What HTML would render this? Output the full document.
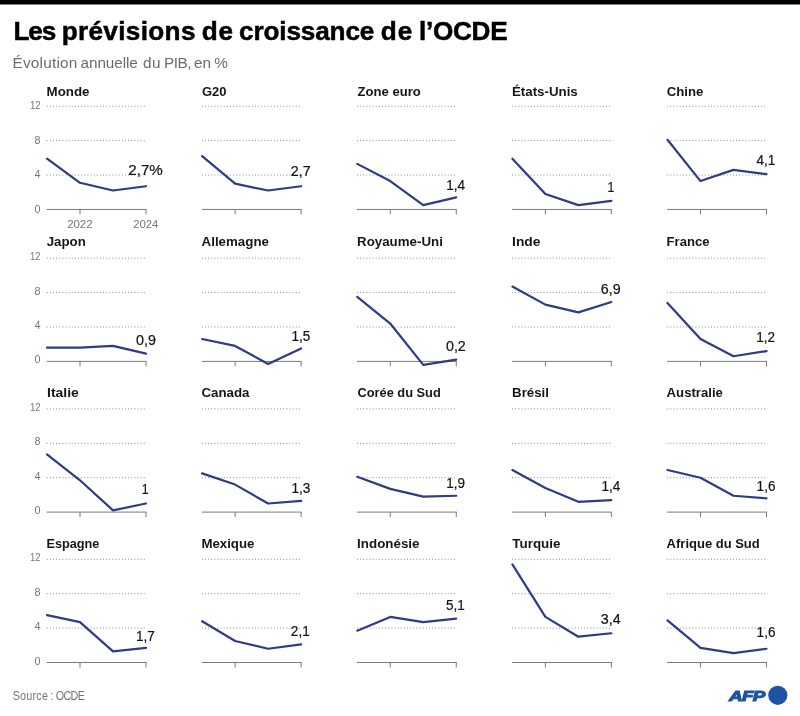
<!DOCTYPE html>
<html lang="fr"><head><meta charset="utf-8"><title>Les prévisions de croissance de l’OCDE</title>
<style>
html,body{margin:0;padding:0;background:#fff}
body{width:800px;height:716px;overflow:hidden}
svg{display:block}
text{font-family:"Liberation Sans",sans-serif;white-space:pre}
.t{font-weight:bold;font-size:26.2px;fill:#000;stroke:#000;stroke-width:.5px}
.s{font-size:15px;fill:#6c6c6c}
.pt{font-weight:bold;font-size:12.8px;fill:#161616}
.ax{font-size:11.6px;fill:#777}
.v{font-size:15.4px;fill:#141414;stroke:#141414;stroke-width:.22px}
.src{font-size:12.2px;fill:#737373}
.afp{font-weight:bold;font-style:italic;font-size:14.9px;letter-spacing:-0.5px;fill:#1f52a3;stroke:#1f52a3;stroke-width:1.1px;stroke-linejoin:miter}
.g{stroke:#8c8c8c;stroke-width:1;stroke-dasharray:1 2.13;fill:none}
.b{stroke:#7a7a7a;stroke-width:1;fill:none}
.l{stroke:#2f3b84;stroke-width:2.2;fill:none;stroke-linejoin:round;stroke-linecap:round}
</style></head><body>
<svg width="800" height="716" viewBox="0 0 800 716">
<rect x="0" y="0" width="800" height="716" fill="#fff"/>
<rect x="0" y="0" width="800" height="4.5" fill="#000"/>
<text class="t" transform="translate(0 39.90) scale(0.9983 1)"><tspan x="13.58" style="letter-spacing:-1.192px">Les </tspan><tspan x="61.76" style="letter-spacing:0.344px">prévisions </tspan><tspan x="202.11" style="letter-spacing:0.749px">de </tspan><tspan x="239.50" style="letter-spacing:-0.142px">croissance </tspan><tspan x="381.41" style="letter-spacing:1.149px">de </tspan><tspan x="419.63" style="letter-spacing:-0.266px">l’OCDE</tspan></text>
<text class="s" transform="translate(0 67.90) scale(1.0238 1)"><tspan x="12.23" style="letter-spacing:0.206px">Évolution </tspan><tspan x="78.74" style="letter-spacing:-0.117px">annuelle </tspan><tspan x="139.64" style="letter-spacing:0.531px">du </tspan><tspan x="160.11" style="letter-spacing:-0.443px">PIB, </tspan><tspan x="189.55" style="letter-spacing:0.015px">en </tspan><tspan x="209.21" style="letter-spacing:0.000px">%</tspan></text>
<g>
<text class="pt" transform="translate(46.59 95.70) scale(1.0408 1)">Monde</text>
<path class="g" d="M46.70 175.05H146.50"/>
<path class="g" d="M46.70 140.65H146.50"/>
<path class="g" d="M46.70 106.25H146.50"/>
<path class="b" d="M46.70 209.45H146.50M80.00 209.45v5M146.00 209.45v5"/>
<polyline class="l" points="47.00,158.71 80.00,182.79 113.00,190.53 146.00,186.23"/>
<text class="v" transform="translate(128.26 175.40) scale(0.9837 1)">2,7%</text>
<text class="ax" transform="translate(34.52 212.65) scale(0.9300 1)">0</text>
<text class="ax" transform="translate(34.40 178.25) scale(0.9300 1)">4</text>
<text class="ax" transform="translate(34.52 143.85) scale(0.9300 1)">8</text>
<text class="ax" transform="translate(30.05 109.45) scale(0.8200 1)">12</text>
<text class="ax" transform="translate(67.13 228.00) scale(0.9888 1)">2022</text>
<text class="ax" transform="translate(133.14 228.00) scale(0.9789 1)">2024</text>
</g>
<g>
<text class="pt" transform="translate(201.99 95.70) scale(1.0162 1)">G20</text>
<path class="g" d="M201.82 175.05H301.62"/>
<path class="g" d="M201.82 140.65H301.62"/>
<path class="g" d="M201.82 106.25H301.62"/>
<path class="b" d="M201.82 209.45H301.62M235.12 209.45v5M301.12 209.45v5"/>
<polyline class="l" points="202.12,156.13 235.12,183.65 268.12,190.53 301.12,186.23"/>
<text class="v" transform="translate(290.86 175.70) scale(0.9300 1)">2,7</text>
</g>
<g>
<text class="pt" transform="translate(357.52 95.70) scale(1.0230 1)">Zone euro</text>
<path class="g" d="M356.95 175.05H456.75"/>
<path class="g" d="M356.95 140.65H456.75"/>
<path class="g" d="M356.95 106.25H456.75"/>
<path class="b" d="M356.95 209.45H456.75M390.25 209.45v5M456.25 209.45v5"/>
<polyline class="l" points="357.25,163.87 390.25,181.07 423.25,205.15 456.25,197.41"/>
<text class="v" transform="translate(446.26 189.90) scale(0.8800 1)">1,4</text>
</g>
<g>
<text class="pt" transform="translate(511.99 95.70) scale(1.0392 1)">États-Unis</text>
<path class="g" d="M512.08 175.05H611.88"/>
<path class="g" d="M512.08 140.65H611.88"/>
<path class="g" d="M512.08 106.25H611.88"/>
<path class="b" d="M512.08 209.45H611.88M545.38 209.45v5M611.38 209.45v5"/>
<polyline class="l" points="512.38,158.71 545.38,193.97 578.38,205.15 611.38,200.85"/>
<text class="v" transform="translate(607.55 192.00) scale(0.8000 1)">1</text>
</g>
<g>
<text class="pt" transform="translate(666.78 95.70) scale(1.0310 1)">Chine</text>
<path class="g" d="M667.20 175.05H767.00"/>
<path class="g" d="M667.20 140.65H767.00"/>
<path class="g" d="M667.20 106.25H767.00"/>
<path class="b" d="M667.20 209.45H767.00M700.50 209.45v5M766.50 209.45v5"/>
<polyline class="l" points="667.50,139.79 700.50,181.07 733.50,169.89 766.50,174.19"/>
<text class="v" transform="translate(756.51 165.00) scale(0.8800 1)">4,1</text>
</g>
<g>
<text class="pt" transform="translate(46.74 246.40) scale(1.0375 1)">Japon</text>
<path class="g" d="M46.70 327.00H146.50"/>
<path class="g" d="M46.70 292.60H146.50"/>
<path class="g" d="M46.70 258.20H146.50"/>
<path class="b" d="M46.70 361.40H146.50M80.00 361.40v5M146.00 361.40v5"/>
<polyline class="l" points="47.00,347.64 80.00,347.64 113.00,345.92 146.00,353.66"/>
<text class="v" transform="translate(135.99 344.50) scale(0.9300 1)">0,9</text>
<text class="ax" transform="translate(34.52 363.30) scale(0.9300 1)">0</text>
<text class="ax" transform="translate(34.40 328.90) scale(0.9300 1)">4</text>
<text class="ax" transform="translate(34.52 294.50) scale(0.9300 1)">8</text>
<text class="ax" transform="translate(30.05 260.10) scale(0.8200 1)">12</text>
</g>
<g>
<text class="pt" transform="translate(201.61 246.40) scale(1.0411 1)">Allemagne</text>
<path class="g" d="M201.82 327.00H301.62"/>
<path class="g" d="M201.82 292.60H301.62"/>
<path class="g" d="M201.82 258.20H301.62"/>
<path class="b" d="M201.82 361.40H301.62M235.12 361.40v5M301.12 361.40v5"/>
<polyline class="l" points="202.12,339.04 235.12,345.92 268.12,363.98 301.12,348.50"/>
<text class="v" transform="translate(291.38 340.50) scale(0.8800 1)">1,5</text>
</g>
<g>
<text class="pt" transform="translate(357.09 246.40) scale(1.0402 1)">Royaume-Uni</text>
<path class="g" d="M356.95 327.00H456.75"/>
<path class="g" d="M356.95 292.60H456.75"/>
<path class="g" d="M356.95 258.20H456.75"/>
<path class="b" d="M356.95 361.40H456.75M390.25 361.40v5M456.25 361.40v5"/>
<polyline class="l" points="357.25,296.90 390.25,323.56 423.25,364.84 456.25,359.68"/>
<text class="v" transform="translate(445.92 350.60) scale(0.9300 1)">0,2</text>
</g>
<g>
<text class="pt" transform="translate(512.05 246.40) scale(1.0800 1)">Inde</text>
<path class="g" d="M512.08 327.00H611.88"/>
<path class="g" d="M512.08 292.60H611.88"/>
<path class="g" d="M512.08 258.20H611.88"/>
<path class="b" d="M512.08 361.40H611.88M545.38 361.40v5M611.38 361.40v5"/>
<polyline class="l" points="512.38,286.58 545.38,304.64 578.38,312.38 611.38,302.06"/>
<text class="v" transform="translate(600.69 294.25) scale(0.9300 1)">6,9</text>
</g>
<g>
<text class="pt" transform="translate(666.61 246.40) scale(1.0215 1)">France</text>
<path class="g" d="M667.20 327.00H767.00"/>
<path class="g" d="M667.20 292.60H767.00"/>
<path class="g" d="M667.20 258.20H767.00"/>
<path class="b" d="M667.20 361.40H767.00M700.50 361.40v5M766.50 361.40v5"/>
<polyline class="l" points="667.50,302.92 700.50,339.04 733.50,356.24 766.50,351.08"/>
<text class="v" transform="translate(756.18 342.00) scale(0.8800 1)">1,2</text>
</g>
<g>
<text class="pt" transform="translate(47.05 397.00) scale(1.0906 1)">Italie</text>
<path class="g" d="M46.70 477.70H146.50"/>
<path class="g" d="M46.70 443.30H146.50"/>
<path class="g" d="M46.70 408.90H146.50"/>
<path class="b" d="M46.70 512.10H146.50M80.00 512.10v5M146.00 512.10v5"/>
<polyline class="l" points="47.00,454.48 80.00,480.28 113.00,510.38 146.00,503.50"/>
<text class="v" transform="translate(141.70 494.00) scale(0.8000 1)">1</text>
<text class="ax" transform="translate(34.52 513.95) scale(0.9300 1)">0</text>
<text class="ax" transform="translate(34.40 479.55) scale(0.9300 1)">4</text>
<text class="ax" transform="translate(34.52 445.15) scale(0.9300 1)">8</text>
<text class="ax" transform="translate(30.05 410.75) scale(0.8200 1)">12</text>
</g>
<g>
<text class="pt" transform="translate(201.48 397.00) scale(1.0383 1)">Canada</text>
<path class="g" d="M201.82 477.70H301.62"/>
<path class="g" d="M201.82 443.30H301.62"/>
<path class="g" d="M201.82 408.90H301.62"/>
<path class="b" d="M201.82 512.10H301.62M235.12 512.10v5M301.12 512.10v5"/>
<polyline class="l" points="202.12,473.40 235.12,484.58 268.12,503.50 301.12,500.92"/>
<text class="v" transform="translate(291.38 493.00) scale(0.8800 1)">1,3</text>
</g>
<g>
<text class="pt" transform="translate(357.50 397.00) scale(1.0015 1)">Corée du Sud</text>
<path class="g" d="M356.95 477.70H456.75"/>
<path class="g" d="M356.95 443.30H456.75"/>
<path class="g" d="M356.95 408.90H456.75"/>
<path class="b" d="M356.95 512.10H456.75M390.25 512.10v5M456.25 512.10v5"/>
<polyline class="l" points="357.25,476.84 390.25,488.88 423.25,496.62 456.25,495.76"/>
<text class="v" transform="translate(446.18 488.00) scale(0.8800 1)">1,9</text>
</g>
<g>
<text class="pt" transform="translate(512.09 397.00) scale(1.0370 1)">Brésil</text>
<path class="g" d="M512.08 477.70H611.88"/>
<path class="g" d="M512.08 443.30H611.88"/>
<path class="g" d="M512.08 408.90H611.88"/>
<path class="b" d="M512.08 512.10H611.88M545.38 512.10v5M611.38 512.10v5"/>
<polyline class="l" points="512.38,469.96 545.38,488.02 578.38,501.78 611.38,500.06"/>
<text class="v" transform="translate(601.51 491.00) scale(0.8800 1)">1,4</text>
</g>
<g>
<text class="pt" transform="translate(666.61 397.00) scale(1.0278 1)">Australie</text>
<path class="g" d="M667.20 477.70H767.00"/>
<path class="g" d="M667.20 443.30H767.00"/>
<path class="g" d="M667.20 408.90H767.00"/>
<path class="b" d="M667.20 512.10H767.00M700.50 512.10v5M766.50 512.10v5"/>
<polyline class="l" points="667.50,469.96 700.50,477.70 733.50,495.76 766.50,498.34"/>
<text class="v" transform="translate(756.62 490.50) scale(0.8800 1)">1,6</text>
</g>
<g>
<text class="pt" transform="translate(46.43 547.60) scale(0.9942 1)">Espagne</text>
<path class="g" d="M46.70 628.10H146.50"/>
<path class="g" d="M46.70 593.70H146.50"/>
<path class="g" d="M46.70 559.30H146.50"/>
<path class="b" d="M46.70 662.50H146.50M80.00 662.50v5M146.00 662.50v5"/>
<polyline class="l" points="47.00,615.20 80.00,622.08 113.00,651.32 146.00,647.88"/>
<text class="v" transform="translate(136.06 640.50) scale(0.8800 1)">1,7</text>
<text class="ax" transform="translate(34.52 664.60) scale(0.9300 1)">0</text>
<text class="ax" transform="translate(34.40 630.20) scale(0.9300 1)">4</text>
<text class="ax" transform="translate(34.52 595.80) scale(0.9300 1)">8</text>
<text class="ax" transform="translate(30.05 561.40) scale(0.8200 1)">12</text>
</g>
<g>
<text class="pt" transform="translate(201.39 547.60) scale(1.0366 1)">Mexique</text>
<path class="g" d="M201.82 628.10H301.62"/>
<path class="g" d="M201.82 593.70H301.62"/>
<path class="g" d="M201.82 559.30H301.62"/>
<path class="b" d="M201.82 662.50H301.62M235.12 662.50v5M301.12 662.50v5"/>
<polyline class="l" points="202.12,621.22 235.12,641.00 268.12,648.74 301.12,644.44"/>
<text class="v" transform="translate(290.85 635.50) scale(0.8800 1)">2,1</text>
</g>
<g>
<text class="pt" transform="translate(357.09 547.60) scale(1.0450 1)">Indonésie</text>
<path class="g" d="M356.95 628.10H456.75"/>
<path class="g" d="M356.95 593.70H456.75"/>
<path class="g" d="M356.95 559.30H456.75"/>
<path class="b" d="M356.95 662.50H456.75M390.25 662.50v5M456.25 662.50v5"/>
<polyline class="l" points="357.25,630.68 390.25,616.92 423.25,622.08 456.25,618.64"/>
<text class="v" transform="translate(446.02 610.00) scale(0.8800 1)">5,1</text>
</g>
<g>
<text class="pt" transform="translate(512.37 547.60) scale(1.0468 1)">Turquie</text>
<path class="g" d="M512.08 628.10H611.88"/>
<path class="g" d="M512.08 593.70H611.88"/>
<path class="g" d="M512.08 559.30H611.88"/>
<path class="b" d="M512.08 662.50H611.88M545.38 662.50v5M611.38 662.50v5"/>
<polyline class="l" points="512.38,564.46 545.38,616.92 578.38,636.70 611.38,633.26"/>
<text class="v" transform="translate(600.82 623.75) scale(0.9300 1)">3,4</text>
</g>
<g>
<text class="pt" transform="translate(666.62 547.60) scale(1.0166 1)">Afrique du Sud</text>
<path class="g" d="M667.20 628.10H767.00"/>
<path class="g" d="M667.20 593.70H767.00"/>
<path class="g" d="M667.20 559.30H767.00"/>
<path class="b" d="M667.20 662.50H767.00M700.50 662.50v5M766.50 662.50v5"/>
<polyline class="l" points="667.50,620.36 700.50,647.88 733.50,653.04 766.50,648.74"/>
<text class="v" transform="translate(756.62 637.00) scale(0.8800 1)">1,6</text>
</g>
<text class="src" transform="translate(0 700.00) scale(0.8825 1)"><tspan x="14.33" style="letter-spacing:0.274px">Source </tspan><tspan x="57.01" style="letter-spacing:0.000px">: </tspan><tspan x="63.17" style="letter-spacing:-0.723px">OCDE</tspan></text>
<text class="afp" transform="translate(728.92 701.10) scale(1.2655 1)">AFP</text>
<circle cx="777.8" cy="695.3" r="9.6" fill="#1f52a3"/>
</svg></body></html>
